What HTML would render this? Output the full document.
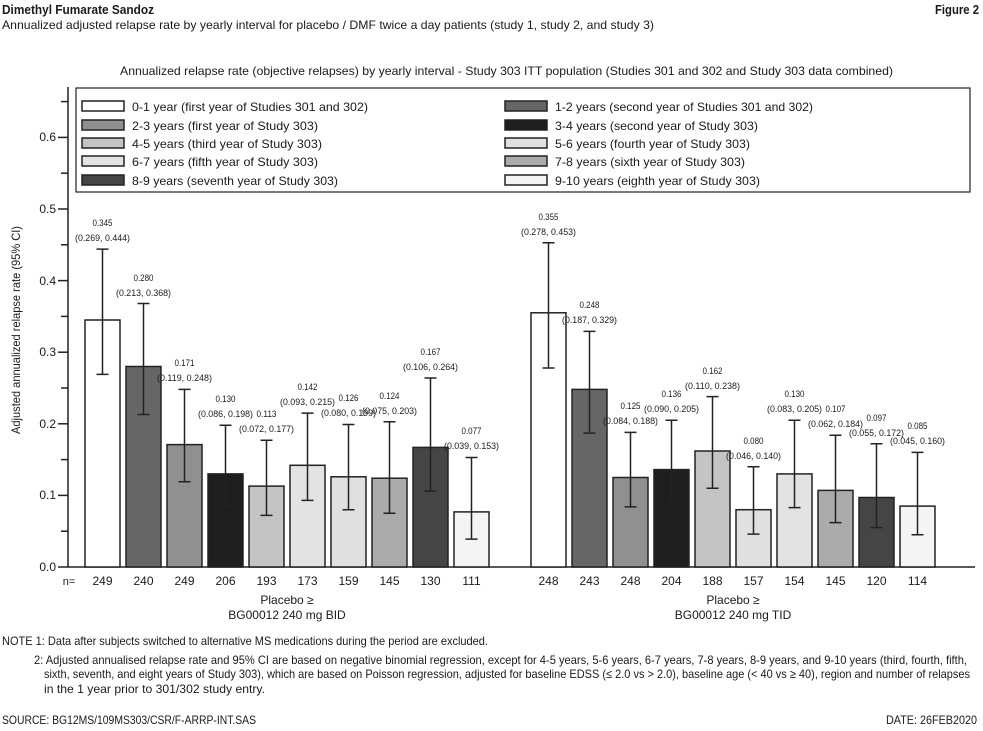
<!DOCTYPE html>
<html><head><meta charset="utf-8"><style>
html,body{margin:0;padding:0;background:#fff}
svg{display:block;font-family:"Liberation Sans",Arial,sans-serif;fill:#1a1a1a}
text{fill:#1a1a1a}
.b{stroke:#222;stroke-width:1.5}
.e{stroke:#222;stroke-width:1.5;fill:none}
.v{font-size:9.5px;text-anchor:middle}
.n{font-size:12px;text-anchor:middle}
.t{font-size:12px}
</style></head><body>
<svg width="983" height="731" viewBox="0 0 983 731" xmlns="http://www.w3.org/2000/svg">
<text x="2" y="14" font-size="12.5" font-weight="bold" textLength="152" lengthAdjust="spacingAndGlyphs">Dimethyl Fumarate Sandoz</text>
<text x="935" y="14" font-size="12.5" font-weight="bold" textLength="44" lengthAdjust="spacingAndGlyphs">Figure 2</text>
<text x="2" y="29" class="t" textLength="652" lengthAdjust="spacingAndGlyphs">Annualized adjusted relapse rate by yearly interval for placebo / DMF twice a day patients (study 1, study 2, and study 3)</text>
<text x="120" y="75" class="t" textLength="773" lengthAdjust="spacingAndGlyphs">Annualized relapse rate (objective relapses) by yearly interval - Study 303 ITT population (Studies 301 and 302 and Study 303 data combined)</text>

<line x1="68" y1="87" x2="68" y2="567" class="e"/>
<line x1="68" y1="567" x2="975" y2="567" class="e"/>
<g class="e">
<line x1="58" y1="567" x2="68" y2="567"/><line x1="58" y1="495.4" x2="68" y2="495.4"/><line x1="58" y1="423.8" x2="68" y2="423.8"/><line x1="58" y1="352.2" x2="68" y2="352.2"/><line x1="58" y1="280.6" x2="68" y2="280.6"/><line x1="58" y1="209" x2="68" y2="209"/><line x1="58" y1="137.4" x2="68" y2="137.4"/>
<line x1="61" y1="531.2" x2="68" y2="531.2"/><line x1="61" y1="459.6" x2="68" y2="459.6"/><line x1="61" y1="388" x2="68" y2="388"/><line x1="61" y1="316.4" x2="68" y2="316.4"/><line x1="61" y1="244.8" x2="68" y2="244.8"/><line x1="61" y1="173.2" x2="68" y2="173.2"/><line x1="61" y1="101.6" x2="68" y2="101.6"/>
</g>
<g class="t" text-anchor="end">
<text x="56" y="571">0.0</text><text x="56" y="499">0.1</text><text x="56" y="428">0.2</text><text x="56" y="356">0.3</text><text x="56" y="285">0.4</text><text x="56" y="213">0.5</text><text x="56" y="141">0.6</text>
</g>
<text transform="translate(20,330) rotate(-90)" class="t" text-anchor="middle" textLength="208" lengthAdjust="spacingAndGlyphs">Adjusted annualized relapse rate (95% CI)</text>

<rect x="76" y="88" width="894" height="104" fill="none" stroke="#222" stroke-width="1.2"/>
<g class="b">
<rect x="82" y="101" width="42" height="10" fill="#fff"/>
<rect x="82" y="120" width="42" height="10" fill="#909090"/>
<rect x="82" y="138" width="42" height="10" fill="#c4c4c4"/>
<rect x="82" y="156" width="42" height="10" fill="#e3e3e3"/>
<rect x="82" y="175" width="42" height="10" fill="#454545"/>
<rect x="505" y="101" width="42" height="10" fill="#666"/>
<rect x="505" y="120" width="42" height="10" fill="#1e1e1e"/>
<rect x="505" y="138" width="42" height="10" fill="#e0e0e0"/>
<rect x="505" y="156" width="42" height="10" fill="#ababab"/>
<rect x="505" y="175" width="42" height="10" fill="#f4f4f4"/>
</g>
<g class="t">
<text x="132" y="111" textLength="236" lengthAdjust="spacingAndGlyphs">0-1 year (first year of Studies 301 and 302)</text>
<text x="132" y="130" textLength="186" lengthAdjust="spacingAndGlyphs">2-3 years (first year of Study 303)</text>
<text x="132" y="148" textLength="190" lengthAdjust="spacingAndGlyphs">4-5 years (third year of Study 303)</text>
<text x="132" y="166" textLength="186" lengthAdjust="spacingAndGlyphs">6-7 years (fifth year of Study 303)</text>
<text x="132" y="185" textLength="206" lengthAdjust="spacingAndGlyphs">8-9 years (seventh year of Study 303)</text>
<text x="555" y="111" textLength="258" lengthAdjust="spacingAndGlyphs">1-2 years (second year of Studies 301 and 302)</text>
<text x="555" y="130" textLength="203" lengthAdjust="spacingAndGlyphs">3-4 years (second year of Study 303)</text>
<text x="555" y="148" textLength="195" lengthAdjust="spacingAndGlyphs">5-6 years (fourth year of Study 303)</text>
<text x="555" y="166" textLength="190" lengthAdjust="spacingAndGlyphs">7-8 years (sixth year of Study 303)</text>
<text x="555" y="185" textLength="205" lengthAdjust="spacingAndGlyphs">9-10 years (eighth year of Study 303)</text>
</g>

<g class="b">
<rect x="85" y="320.0" width="35" height="247.0" fill="#fff"/>
<rect x="126" y="366.5" width="35" height="200.5" fill="#666"/>
<rect x="167" y="444.6" width="35" height="122.4" fill="#909090"/>
<rect x="208" y="473.9" width="35" height="93.1" fill="#1e1e1e"/>
<rect x="249" y="486.1" width="35" height="80.9" fill="#c4c4c4"/>
<rect x="290" y="465.3" width="35" height="101.7" fill="#e3e3e3"/>
<rect x="331" y="476.8" width="35" height="90.2" fill="#e0e0e0"/>
<rect x="372" y="478.2" width="35" height="88.8" fill="#ababab"/>
<rect x="413" y="447.4" width="35" height="119.6" fill="#454545"/>
<rect x="454" y="511.9" width="35" height="55.1" fill="#f4f4f4"/>
<rect x="531" y="312.8" width="35" height="254.2" fill="#fff"/>
<rect x="572" y="389.4" width="35" height="177.6" fill="#666"/>
<rect x="613" y="477.5" width="35" height="89.5" fill="#909090"/>
<rect x="654" y="469.6" width="35" height="97.4" fill="#1e1e1e"/>
<rect x="695" y="451.0" width="35" height="116.0" fill="#c4c4c4"/>
<rect x="736" y="509.7" width="35" height="57.3" fill="#e0e0e0"/>
<rect x="777" y="473.9" width="35" height="93.1" fill="#e3e3e3"/>
<rect x="818" y="490.4" width="35" height="76.6" fill="#ababab"/>
<rect x="859" y="497.5" width="35" height="69.5" fill="#454545"/>
<rect x="900" y="506.1" width="35" height="60.9" fill="#f4f4f4"/>
</g>

<g class="e">
<path d="M102.5 374.4V249.1M96.5 374.4h12M96.5 249.1h12"/>
<path d="M143.5 414.5V303.5M137.5 414.5h12M137.5 303.5h12"/>
<path d="M184.5 481.8V389.4M178.5 481.8h12M178.5 389.4h12"/>
<path d="M225.5 505.4V425.2M219.5 505.4h12M219.5 425.2h12"/>
<path d="M266.5 515.4V440.3M260.5 515.4h12M260.5 440.3h12"/>
<path d="M307.5 500.4V413.1M301.5 500.4h12M301.5 413.1h12"/>
<path d="M348.5 509.7V424.5M342.5 509.7h12M342.5 424.5h12"/>
<path d="M389.5 513.3V421.7M383.5 513.3h12M383.5 421.7h12"/>
<path d="M430.5 491.1V378.0M424.5 491.1h12M424.5 378.0h12"/>
<path d="M471.5 539.1V457.5M465.5 539.1h12M465.5 457.5h12"/>
<path d="M548.5 368.0V242.7M542.5 368.0h12M542.5 242.7h12"/>
<path d="M589.5 433.1V331.4M583.5 433.1h12M583.5 331.4h12"/>
<path d="M630.5 506.9V432.4M624.5 506.9h12M624.5 432.4h12"/>
<path d="M671.5 502.6V420.2M665.5 502.6h12M665.5 420.2h12"/>
<path d="M712.5 488.2V396.6M706.5 488.2h12M706.5 396.6h12"/>
<path d="M753.5 534.1V466.8M747.5 534.1h12M747.5 466.8h12"/>
<path d="M794.5 507.6V420.2M788.5 507.6h12M788.5 420.2h12"/>
<path d="M835.5 522.6V435.3M829.5 522.6h12M829.5 435.3h12"/>
<path d="M876.5 527.6V443.8M870.5 527.6h12M870.5 443.8h12"/>
<path d="M917.5 534.8V452.4M911.5 534.8h12M911.5 452.4h12"/>
</g>

<g class="v">
<text x="102.5" y="226" textLength="20" lengthAdjust="spacingAndGlyphs">0.345</text><text x="102.5" y="241" textLength="55" lengthAdjust="spacingAndGlyphs">(0.269, 0.444)</text>
<text x="143.5" y="281" textLength="20" lengthAdjust="spacingAndGlyphs">0.280</text><text x="143.5" y="296" textLength="55" lengthAdjust="spacingAndGlyphs">(0.213, 0.368)</text>
<text x="184.5" y="366" textLength="20" lengthAdjust="spacingAndGlyphs">0.171</text><text x="184.5" y="381" textLength="55" lengthAdjust="spacingAndGlyphs">(0.119, 0.248)</text>
<text x="225.5" y="402" textLength="20" lengthAdjust="spacingAndGlyphs">0.130</text><text x="225.5" y="417" textLength="55" lengthAdjust="spacingAndGlyphs">(0.086, 0.198)</text>
<text x="266.5" y="417" textLength="20" lengthAdjust="spacingAndGlyphs">0.113</text><text x="266.5" y="432" textLength="55" lengthAdjust="spacingAndGlyphs">(0.072, 0.177)</text>
<text x="307.5" y="390" textLength="20" lengthAdjust="spacingAndGlyphs">0.142</text><text x="307.5" y="405" textLength="55" lengthAdjust="spacingAndGlyphs">(0.093, 0.215)</text>
<text x="348.5" y="401" textLength="20" lengthAdjust="spacingAndGlyphs">0.126</text><text x="348.5" y="416" textLength="55" lengthAdjust="spacingAndGlyphs">(0.080, 0.199)</text>
<text x="389.5" y="399" textLength="20" lengthAdjust="spacingAndGlyphs">0.124</text><text x="389.5" y="414" textLength="55" lengthAdjust="spacingAndGlyphs">(0.075, 0.203)</text>
<text x="430.5" y="355" textLength="20" lengthAdjust="spacingAndGlyphs">0.167</text><text x="430.5" y="370" textLength="55" lengthAdjust="spacingAndGlyphs">(0.106, 0.264)</text>
<text x="471.5" y="434" textLength="20" lengthAdjust="spacingAndGlyphs">0.077</text><text x="471.5" y="449" textLength="55" lengthAdjust="spacingAndGlyphs">(0.039, 0.153)</text>
<text x="548.5" y="220" textLength="20" lengthAdjust="spacingAndGlyphs">0.355</text><text x="548.5" y="235" textLength="55" lengthAdjust="spacingAndGlyphs">(0.278, 0.453)</text>
<text x="589.5" y="308" textLength="20" lengthAdjust="spacingAndGlyphs">0.248</text><text x="589.5" y="323" textLength="55" lengthAdjust="spacingAndGlyphs">(0.187, 0.329)</text>
<text x="630.5" y="409" textLength="20" lengthAdjust="spacingAndGlyphs">0.125</text><text x="630.5" y="424" textLength="55" lengthAdjust="spacingAndGlyphs">(0.084, 0.188)</text>
<text x="671.5" y="397" textLength="20" lengthAdjust="spacingAndGlyphs">0.136</text><text x="671.5" y="412" textLength="55" lengthAdjust="spacingAndGlyphs">(0.090, 0.205)</text>
<text x="712.5" y="374" textLength="20" lengthAdjust="spacingAndGlyphs">0.162</text><text x="712.5" y="389" textLength="55" lengthAdjust="spacingAndGlyphs">(0.110, 0.238)</text>
<text x="753.5" y="444" textLength="20" lengthAdjust="spacingAndGlyphs">0.080</text><text x="753.5" y="459" textLength="55" lengthAdjust="spacingAndGlyphs">(0.046, 0.140)</text>
<text x="794.5" y="397" textLength="20" lengthAdjust="spacingAndGlyphs">0.130</text><text x="794.5" y="412" textLength="55" lengthAdjust="spacingAndGlyphs">(0.083, 0.205)</text>
<text x="835.5" y="412" textLength="20" lengthAdjust="spacingAndGlyphs">0.107</text><text x="835.5" y="427" textLength="55" lengthAdjust="spacingAndGlyphs">(0.062, 0.184)</text>
<text x="876.5" y="421" textLength="20" lengthAdjust="spacingAndGlyphs">0.097</text><text x="876.5" y="436" textLength="55" lengthAdjust="spacingAndGlyphs">(0.055, 0.172)</text>
<text x="917.5" y="429" textLength="20" lengthAdjust="spacingAndGlyphs">0.085</text><text x="917.5" y="444" textLength="55" lengthAdjust="spacingAndGlyphs">(0.045, 0.160)</text>
</g>

<g class="n">
<text x="69" y="585" font-size="11">n=</text>
<text x="102.5" y="585">249</text><text x="143.5" y="585">240</text><text x="184.5" y="585">249</text><text x="225.5" y="585">206</text><text x="266.5" y="585">193</text><text x="307.5" y="585">173</text><text x="348.5" y="585">159</text><text x="389.5" y="585">145</text><text x="430.5" y="585">130</text><text x="471.5" y="585">111</text>
<text x="548.5" y="585">248</text><text x="589.5" y="585">243</text><text x="630.5" y="585">248</text><text x="671.5" y="585">204</text><text x="712.5" y="585">188</text><text x="753.5" y="585">157</text><text x="794.5" y="585">154</text><text x="835.5" y="585">145</text><text x="876.5" y="585">120</text><text x="917.5" y="585">114</text>
<text x="287" y="604">Placebo ≥</text><text x="287" y="619">BG00012 240 mg BID</text>
<text x="733" y="604">Placebo ≥</text><text x="733" y="619">BG00012 240 mg TID</text>
</g>

<g class="t">
<text x="2" y="645" textLength="486" lengthAdjust="spacingAndGlyphs">NOTE 1: Data after subjects switched to alternative MS medications during the period are excluded.</text>
<text x="34" y="664" textLength="933" lengthAdjust="spacingAndGlyphs">2: Adjusted annualised relapse rate and 95% CI are based on negative binomial regression, except for 4-5 years, 5-6 years, 6-7 years, 7-8 years, 8-9 years, and 9-10 years (third, fourth, fifth,</text>
<text x="44" y="678" textLength="926" lengthAdjust="spacingAndGlyphs">sixth, seventh, and eight years of Study 303), which are based on Poisson regression, adjusted for baseline EDSS (≤ 2.0 vs &gt; 2.0), baseline age (&lt; 40 vs ≥ 40), region and number of relapses</text>
<text x="44" y="693" textLength="221" lengthAdjust="spacingAndGlyphs">in the 1 year prior to 301/302 study entry.</text>
<text x="2" y="724" textLength="254" lengthAdjust="spacingAndGlyphs">SOURCE: BG12MS/109MS303/CSR/F-ARRP-INT.SAS</text>
<text x="886" y="724" textLength="91" lengthAdjust="spacingAndGlyphs">DATE: 26FEB2020</text>
</g>
</svg>
</body></html>
